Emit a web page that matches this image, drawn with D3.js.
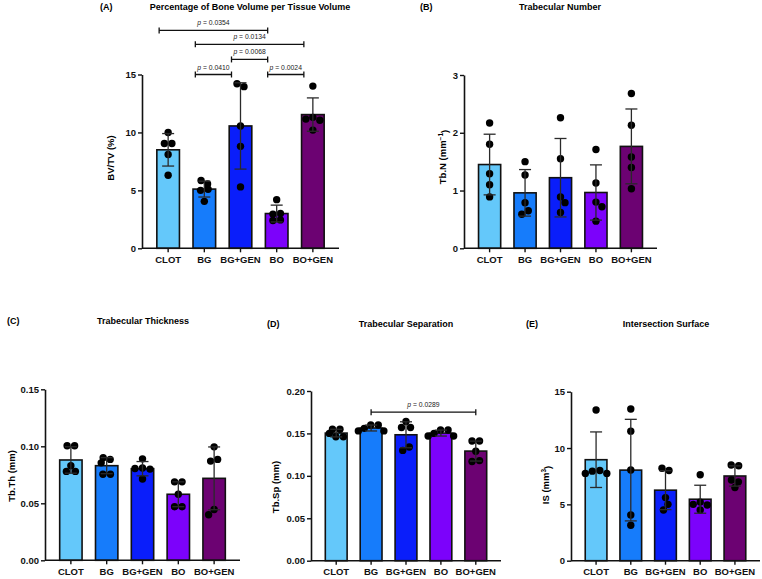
<!DOCTYPE html>
<html>
<head>
<meta charset="utf-8">
<script src="https://cdn.jsdelivr.net/npm/d3@7"></script>
<style>
  body { margin: 0; background: #fff; }
  svg { font-family: "Liberation Sans", Arial, sans-serif; }
</style>
</head>
<body>
<div class="diagram"></div>
<script>
// groups and colours
const groups = ["CLOT", "BG", "BG+GEN", "BO", "BO+GEN"];
const groupColors = ["#64c8fa", "#167cfb", "#0a1efa", "#7c02fb", "#6c0272"];

// individual samples per group
const bvtvPoints = [
  [10.0, 9.05, 9.05, 8.1, 6.3],
  [5.85, 5.55, 5.1, 5.0, 4.05],
  [14.2, 13.95, 10.55, 8.8, 5.3],
  [4.2, 3.0, 2.95, 2.45, 2.4],
  [14.0, 11.3, 11.15, 11.05, 10.2]
];
const tbnPoints = [
  [2.17, 1.8, 1.29, 1.1, 0.89],
  [1.5, 1.27, 0.79, 0.65, 0.59],
  [2.26, 1.55, 0.89, 0.79, 0.62],
  [1.71, 1.13, 0.8, 0.72, 0.47],
  [2.68, 2.13, 1.58, 1.4, 1.03]
];
const tbthPoints = [
  [0.1005, 0.1005, 0.083, 0.078, 0.078],
  [0.090, 0.0885, 0.0855, 0.0755, 0.0755],
  [0.089, 0.081, 0.0805, 0.080, 0.0713],
  [0.0688, 0.0688, 0.058, 0.047, 0.047],
  [0.0995, 0.0885, 0.087, 0.0445, 0.040]
];
const tbspPoints = [
  [0.155, 0.155, 0.150, 0.146, 0.146],
  [0.160, 0.160, 0.156, 0.153, 0.153],
  [0.164, 0.157, 0.157, 0.134, 0.130],
  [0.154, 0.154, 0.150, 0.147, 0.147],
  [0.141, 0.141, 0.129, 0.118, 0.117]
];
const isPoints = [
  [13.37, 8.0, 7.95, 7.75, 7.75],
  [13.46, 11.5, 8.05, 4.05, 3.14],
  [8.2, 8.0, 5.6, 5.0, 4.5],
  [7.63, 5.2, 5.0, 4.95, 4.5],
  [8.5, 8.43, 7.16, 7.0, 6.5]
];

// tick values
const bvtvTicks = [0, 5, 10, 15];
const tbnTicks = [0, 1, 2, 3];
const tbthTicks = [0, 0.05, 0.10, 0.15];
const tbspTicks = [0, 0.05, 0.10, 0.15, 0.20];
const isTicks = [0, 5, 10, 15];

// significance brackets
const bvtvBrackets = [
  {from: "CLOT", to: "BO", p: "0.0354", level: 18.8},
  {from: "BG", to: "BO+GEN", p: "0.0134", level: 17.6},
  {from: "BG+GEN", to: "BO", p: "0.0068", level: 16.3},
  {from: "BG", to: "BG+GEN", p: "0.0410", level: 15.0},
  {from: "BO", to: "BO+GEN", p: "0.0024", level: 15.0}
];
const tbspBrackets = [
  {from: "BG", to: "BO+GEN", p: "0.0289", level: 0.175}
];

const svg = d3.select(".diagram")
  .append("svg")
    .attr("width", 762)
    .attr("height", 579);

svg.append("rect").attr("width", 762).attr("height", 579).attr("fill", "#fff");

// simple beeswarm so dots with close values sit side by side
function swarm(values, y, minD) {
  const order = values.map(v => ({v: v, py: y(v)})).sort((a, b) => a.py - b.py);
  const placed = [];
  order.forEach((p, n) => {
    let dx = 0;
    for (let k = 0; k < 200; k++) {
      const s = n % 2 ? 1 : -1;
      const cands = k === 0 ? [0] : [s * k * 0.5, -s * k * 0.5];
      const hit = cands.find(c => placed.every(q => Math.hypot(q.dx - c, q.py - p.py) >= minD));
      if (hit !== undefined) { dx = hit; break; }
    }
    p.dx = dx;
    placed.push(p);
  });
  // centre rows of dots that share (almost) the same value
  let row = [];
  const flush = () => {
    if (row.length > 1) {
      const m = d3.mean(row, q => q.dx);
      row.forEach(q => q.dx -= m);
    }
  };
  order.forEach(p => {
    if (row.length && p.py - row[0].py > 3.5) { flush(); row = []; }
    row.push(p);
  });
  flush();
  return order;
}

function drawPanel(cfg) {
  const g = svg.append("g");

  const x = d3.scaleBand()
    .domain(groups)
    .range([cfg.axisX, cfg.axisX + cfg.width])
    .paddingInner(0.375)
    .paddingOuter(0.41);

  const y = d3.scaleLinear()
    .domain([0, cfg.max])
    .range([cfg.y0, cfg.yTop]);

  const stats = cfg.points.map((pts, i) => ({
    group: groups[i],
    color: groupColors[i],
    pts: pts,
    mean: d3.mean(pts),
    sd: d3.deviation(pts)
  }));

  // bars
  g.selectAll(".bar")
    .data(stats)
    .join("rect")
      .attr("x", d => x(d.group))
      .attr("y", d => y(d.mean))
      .attr("width", x.bandwidth())
      .attr("height", d => cfg.y0 - y(d.mean))
      .attr("fill", d => d.color)
      .attr("stroke", "#111")
      .attr("stroke-width", 1.6);

  // dots
  stats.forEach(d => {
    const cx = x(d.group) + x.bandwidth() / 2;
    g.append("g")
      .selectAll("circle")
      .data(swarm(d.pts, y, 7.2))
      .join("circle")
        .attr("cx", p => cx + p.dx)
        .attr("cy", p => p.py)
        .attr("r", 3.7)
        .attr("fill", "#000");
  });

  // error bars (mean +/- SD)
  const cap = 6;
  stats.forEach(d => {
    const cx = x(d.group) + x.bandwidth() / 2;
    const top = y(d.mean + d.sd), bot = y(d.mean - d.sd);
    const eb = g.append("g").attr("stroke", "#2a2a2a").attr("stroke-width", 1.3);
    eb.append("line").attr("x1", cx).attr("x2", cx).attr("y1", top).attr("y2", bot);
    eb.append("line").attr("x1", cx - cap).attr("x2", cx + cap).attr("y1", top).attr("y2", top);
    eb.append("line").attr("x1", cx - cap).attr("x2", cx + cap).attr("y1", bot).attr("y2", bot);
  });

  // Y axis
  const yAxis = g.append("g")
    .attr("transform", `translate(${cfg.axisX},0)`)
    .call(d3.axisLeft(y).tickValues(cfg.ticks).tickFormat(cfg.fmt).tickSize(4).tickSizeOuter(0).tickPadding(2));

  // X axis
  const xAxis = g.append("g")
    .attr("transform", `translate(0,${cfg.y0})`)
    .call(d3.axisBottom(x).tickSize(4).tickSizeOuter(0).tickPadding(4));
  xAxis.select(".domain").attr("d", `M${cfg.axisX},0H${cfg.axisX + cfg.width}`);

  [yAxis, xAxis].forEach(a => {
    a.select(".domain").attr("stroke", "#111").attr("stroke-width", 1.6);
    a.selectAll(".tick line").attr("stroke", "#111").attr("stroke-width", 1.4);
    a.selectAll("text")
      .attr("fill", "#111")
      .style("font-size", "9.5px")
      .style("font-weight", "bold")
      .style("font-family", "'Liberation Sans', Arial, sans-serif");
  });

  // brackets
  (cfg.brackets || []).forEach(b => {
    const x1 = x(b.from) + x.bandwidth() / 2 + (cfg.bracketShift || 0);
    const x2 = x(b.to) + x.bandwidth() / 2 + (cfg.bracketShift || 0);
    const by = y(b.level);
    const bg = g.append("g").attr("stroke", "#111").attr("stroke-width", 1.3);
    bg.append("line").attr("x1", x1).attr("x2", x2).attr("y1", by).attr("y2", by);
    bg.append("line").attr("x1", x1).attr("x2", x1).attr("y1", by - 3).attr("y2", by + 3);
    bg.append("line").attr("x1", x2).attr("x2", x2).attr("y1", by - 3).attr("y2", by + 3);
    const t = g.append("text")
      .attr("x", (x1 + x2) / 2)
      .attr("y", by - 5)
      .attr("text-anchor", "middle")
      .style("font-size", "6.8px")
      .attr("fill", "#222");
    t.append("tspan").style("font-style", "italic").text("p");
    t.append("tspan").text(" = " + b.p);
  });

  // panel letter and title
  g.append("text")
    .attr("x", cfg.letterX)
    .attr("y", cfg.titleY)
    .style("font-size", "9px")
    .style("font-weight", "bold")
    .text(cfg.letter);
  g.append("text")
    .attr("x", cfg.titleX)
    .attr("y", cfg.titleY)
    .attr("text-anchor", "middle")
    .style("font-size", "9px")
    .style("font-weight", "bold")
    .text(cfg.title);

  // y label
  const yl = g.append("text")
    .attr("transform", `translate(${cfg.labelX},${cfg.labelY}) rotate(-90)`)
    .attr("text-anchor", "middle")
    .attr("dy", "0.35em")
    .style("font-size", "9.5px")
    .style("font-weight", "bold");
  yl.append("tspan").text(cfg.ylabel[0]);
  if (cfg.ylabel[1]) {
    yl.append("tspan").attr("dy", "-0.45em").style("font-size", "6.5px").text(cfg.ylabel[1]);
    yl.append("tspan").attr("dy", "0.45em").text(cfg.ylabel[2]);
  }
}

drawPanel({
  points: bvtvPoints, ticks: bvtvTicks, max: 15, fmt: d3.format("d"),
  axisX: 142, width: 197, y0: 248.3, yTop: 74.5,
  brackets: bvtvBrackets, bracketShift: -9,
  letter: "(A)", letterX: 100, title: "Percentage of Bone Volume per Tissue Volume", titleX: 250, titleY: 10,
  ylabel: ["BV/TV (%)"], labelX: 111, labelY: 158
});

drawPanel({
  points: tbnPoints, ticks: tbnTicks, max: 3, fmt: d3.format("d"),
  axisX: 464, width: 193, y0: 248.3, yTop: 75,
  letter: "(B)", letterX: 420, title: "Trabecular Number", titleX: 560, titleY: 10,
  ylabel: ["Tb.N (mm", "\u22121", ")"], labelX: 443, labelY: 157
});

drawPanel({
  points: tbthPoints, ticks: tbthTicks, max: 0.15, fmt: d3.format(".2f"),
  axisX: 45, width: 195, y0: 560.3, yTop: 389.3,
  letter: "(C)", letterX: 7, title: "Trabecular Thickness", titleX: 143, titleY: 324,
  ylabel: ["Tb.Th (mm)"], labelX: 12, labelY: 476
});

drawPanel({
  points: tbspPoints, ticks: tbspTicks, max: 0.20, fmt: d3.format(".2f"),
  axisX: 311, width: 190, y0: 560.7, yTop: 391,
  brackets: tbspBrackets,
  letter: "(D)", letterX: 267, title: "Trabecular Separation", titleX: 406, titleY: 327,
  ylabel: ["Tb.Sp (mm)"], labelX: 276, labelY: 487
});

drawPanel({
  points: isPoints, ticks: isTicks, max: 15, fmt: d3.format("d"),
  axisX: 571, width: 189, y0: 560.7, yTop: 391.7,
  letter: "(E)", letterX: 526, title: "Intersection Surface", titleX: 666, titleY: 327,
  ylabel: ["IS (mm", "3", ")"], labelX: 546, labelY: 485
});
</script>
</body>
</html>
